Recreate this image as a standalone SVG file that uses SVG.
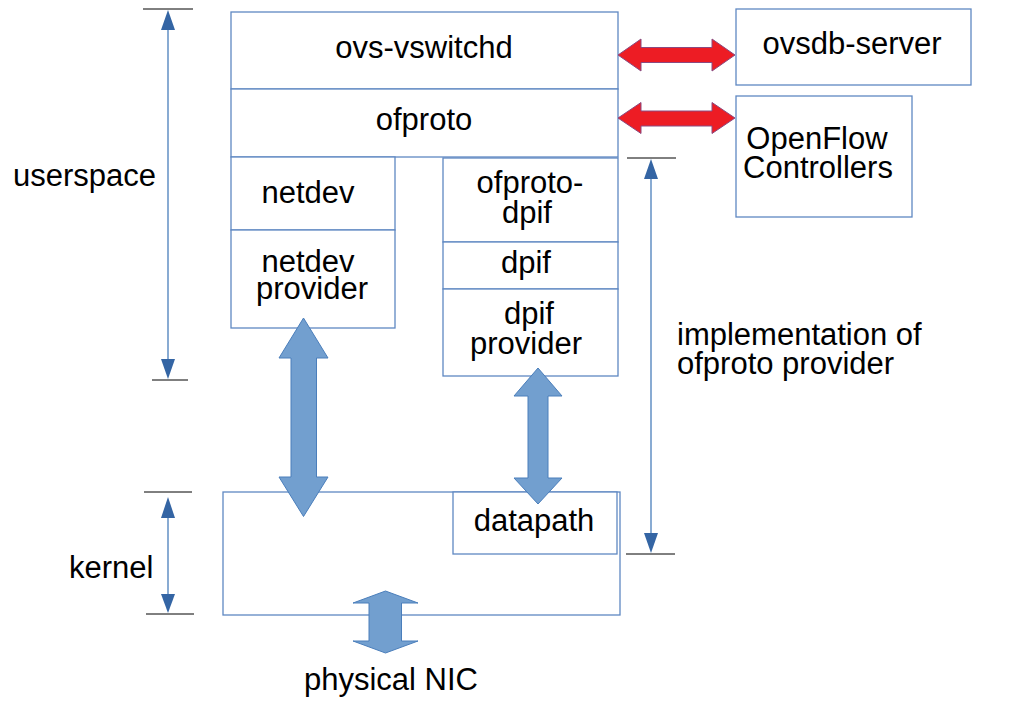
<svg xmlns="http://www.w3.org/2000/svg" width="1009" height="715" viewBox="0 0 1009 715">
<style>
.box{fill:#fff;stroke:#5f88c2;stroke-width:1.3}
.t{font-family:"Liberation Sans",Arial,sans-serif;font-size:31px;fill:#000}
.c{text-anchor:middle}
.red{fill:#ed1c24;stroke:#8a4a80;stroke-width:1}
.blu{fill:#729fcf;stroke:#4a7ebb;stroke-width:1}
.dim{stroke:#4a7ebb;stroke-width:1.3;fill:none}
.tick{stroke:#000;stroke-width:1}
.head{fill:#3465a4}
</style>
<rect width="1009" height="715" fill="#fff"/>
<g id="kernel-box"><rect class="box" x="223" y="492" width="397" height="123"/></g>
<g id="datapath"><rect class="box" x="453" y="492" width="164" height="62"/><text class="t c" x="534" y="531">datapath</text></g>
<g id="ovs-vswitchd"><rect class="box" x="231" y="12" width="387" height="77"/><text class="t c" x="424" y="58">ovs-vswitchd</text></g>
<g id="ofproto"><rect class="box" x="231" y="89" width="387" height="68"/><text class="t c" x="424" y="130">ofproto</text></g>
<g id="netdev"><rect class="box" x="231" y="157" width="164" height="73"/><text class="t c" x="308" y="203">netdev</text></g>
<g id="netdev-provider"><rect class="box" x="231" y="230" width="164" height="98"/><text class="t c" x="308" y="272">netdev</text><text class="t c" x="312" y="299">provider</text></g>
<g id="ofproto-dpif"><rect class="box" x="443" y="158" width="175" height="84"/><text class="t c" x="530" y="193">ofproto-</text><text class="t c" x="527" y="223">dpif</text></g>
<g id="dpif"><rect class="box" x="443" y="242" width="175" height="47"/><text class="t c" x="526" y="273">dpif</text></g>
<g id="dpif-provider"><rect class="box" x="443" y="289" width="175" height="87"/><text class="t c" x="529" y="324">dpif</text><text class="t c" x="526" y="354">provider</text></g>
<g id="ovsdb-server"><rect class="box" x="736" y="9" width="235" height="76"/><text class="t c" x="852" y="54">ovsdb-server</text></g>
<g id="openflow-controllers"><rect class="box" x="736" y="96" width="176" height="121"/><text class="t c" x="817" y="149">OpenFlow</text><text class="t c" x="818" y="178">Controllers</text></g>
<g id="labels">
<text class="t" x="13" y="186">userspace</text>
<text class="t" x="69" y="578">kernel</text>
<text class="t" x="677" y="345">implementation of</text>
<text class="t" x="677" y="374">ofproto provider</text>
<text class="t c" x="391" y="690">physical NIC</text>
</g>
<g id="connectors">
<polygon class="red" points="618,55 641,39 641,47.5 712,47.5 712,39 735,55 712,71 712,62.5 641,62.5 641,71"/>
<polygon class="red" points="618,118 641,102.5 641,111 712,111 712,102.5 735,118 712,133.5 712,126 641,126 641,133.5"/>
<polygon class="blu" points="303.5,318 328,358 316.5,358 316.5,477 328,477 303.5,516.5 279,477 291,477 291,358 279,358"/>
<polygon class="blu" points="538,368 562,396 548,396 548,478 562,478 538,504 514,478 528,478 528,396 514,396"/>
<polygon class="blu" points="385.5,591 418,603 401.5,603 401.5,641 418,641 385.5,653 353,641 369,641 369,603 353,603"/>
<line class="tick" x1="143" y1="9" x2="193" y2="9"/>
<line class="tick" x1="152" y1="380" x2="188" y2="380"/>
<line class="dim" x1="168" y1="25" x2="168" y2="364"/>
<polygon class="head" points="168,10 175,30 161,30"/>
<polygon class="head" points="168,379 175,359 161,359"/>
<line class="tick" x1="144" y1="492" x2="192" y2="492"/>
<line class="tick" x1="146" y1="614" x2="194" y2="614"/>
<line class="dim" x1="168" y1="505" x2="168" y2="600"/>
<polygon class="head" points="168,497 175,518 161,518"/>
<polygon class="head" points="168,613 175,594 161,594"/>
<line class="tick" x1="627" y1="158" x2="676" y2="158"/>
<line class="tick" x1="626" y1="554" x2="675" y2="554"/>
<line class="dim" x1="651" y1="170" x2="651" y2="540"/>
<polygon class="head" points="651,159 658,179 644,179"/>
<polygon class="head" points="651,553 658,533 644,533"/>
</g>
</svg>
